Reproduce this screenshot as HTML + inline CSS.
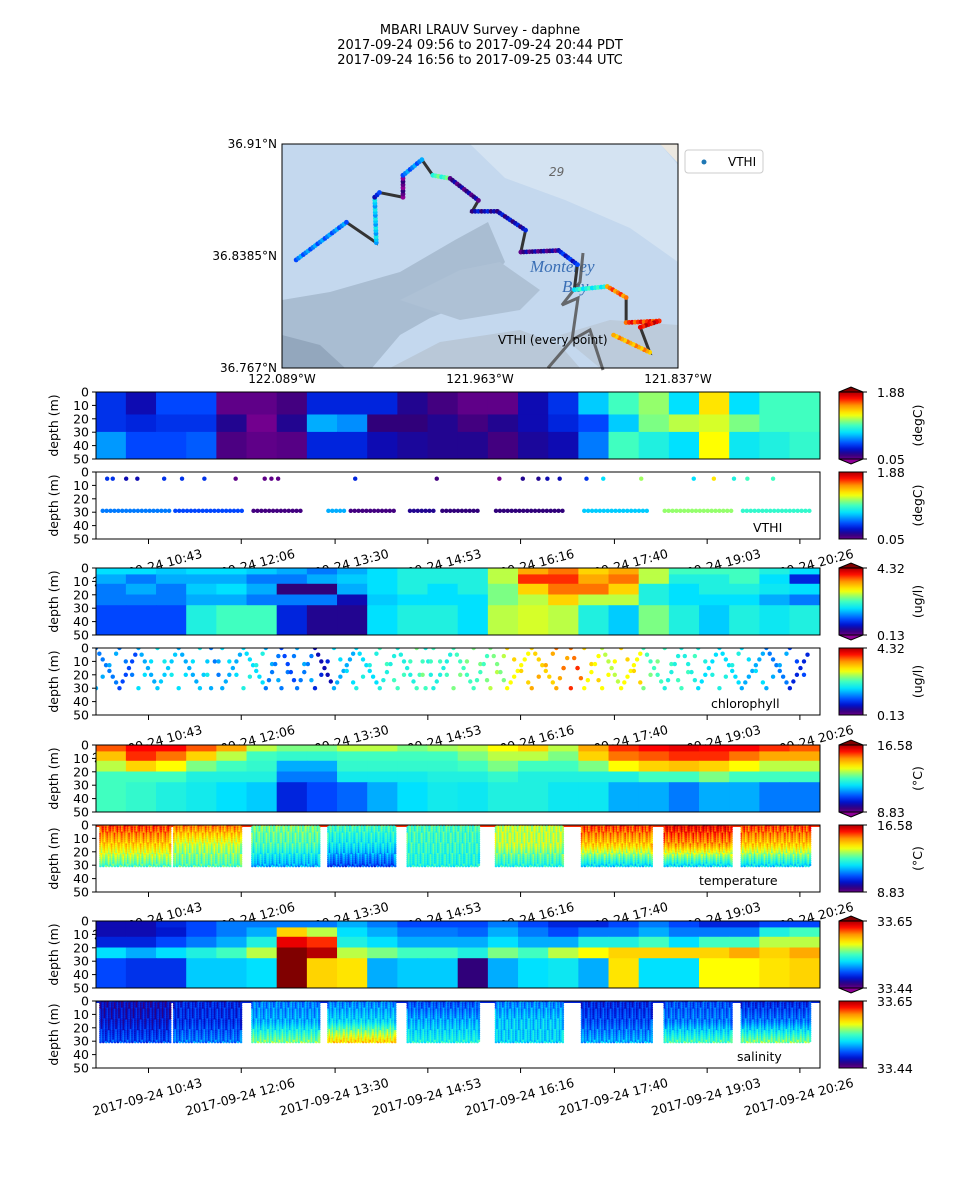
<!DOCTYPE html>
<html><head><meta charset="utf-8">
<style>
html,body{margin:0;padding:0;background:#fff;}
svg{display:block;font-family:"DejaVu Sans","Liberation Sans",sans-serif;}
</style></head>
<body>
<svg id="fig" width="960" height="1200" viewBox="0 0 960 1200" xmlns="http://www.w3.org/2000/svg">
<rect x="0" y="0" width="960" height="1200" fill="#fff"/>
<g font-size="13" text-anchor="middle" fill="#000" style="white-space:pre">
<text x="480" y="34">MBARI LRAUV Survey - daphne</text>
<text x="480" y="49">2017-09-24 09:56  to  2017-09-24 20:44 PDT</text>
<text x="480" y="64">2017-09-24 16:56  to  2017-09-25 03:44 UTC</text>
</g>
<g id="map"></g>
<g id="panels"></g>
</svg>
<script>
// ---------- data ----------
const tickLabels = ["2017-09-24 10:43","2017-09-24 12:06","2017-09-24 13:30","2017-09-24 14:53","2017-09-24 16:16","2017-09-24 17:40","2017-09-24 19:03","2017-09-24 20:26"];
const tickMinutes = [47,130,214,297,380,464,547,630];
const depthTicks = [0,10,20,30,40,50];
const spanMinutes = 648;

const vthiRange = ["1.88","0.05"];
const chlRange = ["4.32","0.13"];
const tempRange = ["16.58","8.83"];
const salRange = ["33.65","33.44"];

// gridded fields: levels (0..1 of colour range) per 27-min column, per depth band
const vthiBands = [0,17,30,50];
const vthiGrid = [
 [0.22,0.15,0.25,0.25,0.05,0.05,0.08,0.2,0.2,0.2,0.12,0.08,0.05,0.05,0.15,0.22,0.38,0.5,0.57,0.4,0.68,0.4,0.5,0.5],
 [0.22,0.2,0.22,0.22,0.12,0.03,0.12,0.35,0.32,0.1,0.1,0.12,0.08,0.12,0.15,0.2,0.25,0.38,0.55,0.6,0.62,0.55,0.5,0.5],
 [0.33,0.25,0.25,0.27,0.07,0.05,0.06,0.2,0.2,0.15,0.13,0.12,0.12,0.08,0.13,0.15,0.3,0.5,0.45,0.4,0.65,0.42,0.45,0.48]
];
const fieldBands = [0,5,12,20,28,50];
const chlGrid = [
 [0.4,0.4,0.38,0.4,0.4,0.38,0.35,0.3,0.35,0.4,0.45,0.45,0.45,0.6,0.75,0.8,0.7,0.75,0.6,0.5,0.5,0.5,0.45,0.4],
 [0.35,0.3,0.35,0.35,0.35,0.3,0.3,0.35,0.38,0.4,0.45,0.45,0.45,0.6,0.85,0.85,0.75,0.8,0.6,0.45,0.45,0.5,0.4,0.2],
 [0.3,0.35,0.3,0.38,0.4,0.35,0.1,0.1,0.35,0.4,0.45,0.4,0.45,0.55,0.7,0.8,0.8,0.7,0.45,0.4,0.45,0.45,0.42,0.4],
 [0.3,0.3,0.3,0.35,0.35,0.3,0.3,0.3,0.15,0.38,0.4,0.4,0.4,0.55,0.6,0.7,0.6,0.6,0.45,0.4,0.4,0.4,0.35,0.3],
 [0.25,0.25,0.25,0.45,0.5,0.5,0.2,0.12,0.12,0.4,0.45,0.45,0.4,0.6,0.62,0.6,0.45,0.38,0.55,0.45,0.38,0.45,0.42,0.45]
];
const tempGrid = [
 [0.82,0.88,0.88,0.82,0.75,0.6,0.55,0.55,0.6,0.6,0.55,0.58,0.6,0.65,0.7,0.6,0.75,0.85,0.88,0.9,0.88,0.88,0.85,0.82],
 [0.72,0.85,0.8,0.7,0.6,0.5,0.48,0.48,0.5,0.5,0.5,0.5,0.55,0.6,0.6,0.55,0.7,0.8,0.82,0.85,0.85,0.8,0.75,0.75],
 [0.6,0.7,0.65,0.55,0.5,0.48,0.35,0.35,0.48,0.48,0.48,0.48,0.5,0.55,0.5,0.5,0.55,0.65,0.7,0.72,0.7,0.65,0.6,0.6],
 [0.5,0.5,0.5,0.45,0.45,0.45,0.3,0.3,0.43,0.43,0.43,0.45,0.45,0.48,0.45,0.45,0.45,0.45,0.5,0.5,0.55,0.5,0.5,0.5],
 [0.5,0.48,0.45,0.43,0.4,0.38,0.2,0.25,0.28,0.35,0.4,0.43,0.42,0.45,0.45,0.42,0.42,0.35,0.35,0.3,0.35,0.35,0.3,0.3]
];
const salGrid = [
 [0.15,0.15,0.2,0.25,0.3,0.3,0.3,0.3,0.35,0.3,0.25,0.25,0.25,0.3,0.25,0.2,0.2,0.25,0.3,0.25,0.2,0.2,0.25,0.25],
 [0.15,0.15,0.18,0.25,0.3,0.35,0.7,0.6,0.4,0.35,0.3,0.3,0.28,0.35,0.3,0.25,0.3,0.3,0.35,0.3,0.3,0.3,0.45,0.5],
 [0.2,0.2,0.25,0.3,0.35,0.45,0.9,0.85,0.45,0.4,0.35,0.35,0.35,0.4,0.35,0.35,0.45,0.45,0.5,0.4,0.5,0.5,0.6,0.6],
 [0.4,0.35,0.4,0.45,0.5,0.6,1.0,0.95,0.6,0.55,0.5,0.5,0.45,0.55,0.5,0.6,0.65,0.7,0.7,0.7,0.7,0.75,0.7,0.75],
 [0.25,0.22,0.22,0.38,0.38,0.4,1.0,0.7,0.68,0.35,0.38,0.38,0.1,0.35,0.4,0.42,0.35,0.68,0.4,0.4,0.65,0.65,0.68,0.7]
];

// VTHI samples: shallow points [minute, level]; deep segments at 30 m [start, end, level]
const vthiShallow = [[10,0.22],[15,0.22],[27,0.15],[37,0.15],[61,0.22],[77,0.22],[97,0.22],[125,0.05],[151,0.05],[157,0.05],[163,0.05],[232,0.2],[305,0.08],[361,0.03],[382,0.12],[396,0.12],[404,0.15],[415,0.15],[439,0.22],[454,0.4],[488,0.58],[535,0.4],[553,0.68],[571,0.45],[583,0.5],[606,0.5]];
const vthiDeep = [[6,67,0.3],[71,131,0.25],[141,185,0.08],[208,225,0.35],[228,269,0.08],[281,302,0.12],[310,342,0.1],[358,418,0.1],[437,496,0.38],[509,570,0.57],[579,639,0.48]];

// chlorophyll yo-yo turning points [minute, depth] and level per leg
const chlTurnMin = [0,21,38,55,74,93,103,113,132,152,166,180,196,213,233,254,270,287,295,302,320,338,353,368,390,412,425,437,453,470,490,509,524,539,558,578,600,621,640];
const chlTurnDepth = [0,30,0,30,0,30,0,30,0,30,0,30,0,30,0,30,0,30,0,30,0,30,0,30,0,30,0,30,0,30,0,30,0,30,0,30,0,30,0];
const chlLegLevel = [0.3,0.25,0.35,0.38,0.35,0.38,0.3,0.35,0.4,0.3,0.25,0.3,0.15,0.35,0.4,0.45,0.45,0.5,0.45,0.45,0.5,0.5,0.55,0.65,0.7,0.75,0.8,0.65,0.6,0.65,0.5,0.45,0.45,0.4,0.4,0.35,0.3,0.2];

// dense profiling blocks [start, end] with level at top / 15 m / 30 m
const blockStart = [4,70,140,208,279,358,435,509,578];
const blockEnd = [67,131,200,269,343,419,498,570,640];
const tempTop = [0.85,0.8,0.55,0.5,0.5,0.6,0.85,0.9,0.85];
const tempMid = [0.7,0.6,0.5,0.42,0.48,0.6,0.7,0.75,0.7];
const tempBot = [0.5,0.5,0.35,0.25,0.45,0.45,0.4,0.4,0.4];
const salTop = [0.15,0.2,0.3,0.3,0.25,0.3,0.2,0.25,0.2];
const salMid = [0.18,0.22,0.35,0.4,0.35,0.38,0.25,0.3,0.3];
const salBot = [0.25,0.3,0.55,0.7,0.45,0.4,0.35,0.5,0.55];

// map track (lon, lat) and leg levels (-1 = no samples)
const trackLon = [-122.080,-122.048,-122.029,-122.030,-122.027,-122.012,-122.012,-122.000,-121.993,-121.982,-121.964,-121.968,-121.952,-121.934,-121.937,-121.913,-121.901,-121.903,-121.882,-121.870,-121.870,-121.849,-121.861,-121.855,-121.878];
const trackLat = [36.836,36.860,36.847,36.876,36.879,36.876,36.890,36.900,36.890,36.888,36.874,36.867,36.867,36.855,36.841,36.842,36.833,36.817,36.819,36.812,36.796,36.797,36.793,36.777,36.788];
const trackLevel = [0.3,-1,0.38,0.2,-1,0.05,0.3,-1,0.5,0.1,-1,0.15,0.15,-1,0.1,0.2,-1,0.45,0.8,-1,0.85,0.9,-1,0.75];

// ---------- helpers ----------
const NS = "http://www.w3.org/2000/svg";
function mk(tag, attrs, parent){const e=document.createElementNS(NS,tag);for(const k in attrs)e.setAttribute(k,attrs[k]);parent.appendChild(e);return e;}
const stops=[[0,[142,0,150]],[0.1,[48,0,122]],[0.17,[0,16,200]],[0.25,[0,70,255]],[0.4,[0,225,255]],[0.5,[64,255,192]],[0.58,[160,255,96]],[0.65,[255,255,0]],[0.78,[255,144,0]],[0.88,[255,0,0]],[1,[128,0,0]]];
function cmap(v){v=Math.max(0,Math.min(1,v));for(let i=1;i<stops.length;i++){if(v<=stops[i][0]){const a=stops[i-1],b=stops[i];const t=(v-a[0])/(b[0]-a[0]);const c=a[1].map((x,j)=>Math.round(x+(b[1][j]-x)*t));return `rgb(${c[0]},${c[1]},${c[2]})`;}}return "rgb(128,0,0)";}

const AX0=96, AX1=820, PH=67, CB0=839, CBW=24;
function X(m){return AX0+m/spanMinutes*(AX1-AX0);}

// ---------- map ----------
const map=document.getElementById('map');
const MX0=282,MX1=678,MY0=144,MY1=368;
function MXp(lon){return MX0+(lon+122.089)/0.252*(MX1-MX0);}
function MYp(lat){return MY0+(36.91-lat)/0.143*(MY1-MY0);}
mk('rect',{x:MX0,y:MY0,width:MX1-MX0,height:MY1-MY0,fill:'#c4d8ee'},map);
let p=mk('polygon',{points:'470,144 660,144 678,165 678,262 630,228 565,200 505,178',fill:'#d4e3f2'},map);

p=mk('polygon',{points:'282,300 330,292 400,272 455,240 488,222 505,262 475,300 430,318 400,335 372,368 282,368',fill:'#a9bdd2'},map);

mk('polygon',{points:'282,335 320,345 345,368 282,368',fill:'#93a7bd'},map);
mk('polygon',{points:'400,300 460,270 500,262 540,290 520,310 460,320',fill:'#aec1d5'},map);
mk('polygon',{points:'390,368 440,342 520,330 560,345 580,368',fill:'#b9c8d8'},map);
mk('polygon',{points:'560,335 610,320 678,325 678,368 600,368',fill:'#bccbdb'},map);
mk('polygon',{points:'660,144 678,144 678,163',fill:'#ece8e0'},map);
const tx=mk('text',{x:549,y:176,'font-size':12,'font-style':'italic',fill:'#666'},map);tx.textContent='29';
const t1=mk('text',{x:530,y:272,'font-size':17,'font-style':'italic','font-family':'Liberation Serif, serif',fill:'#3a6fb5'},map);t1.textContent='Monterey';

const t2=mk('text',{x:562,y:292,'font-size':17,'font-style':'italic','font-family':'Liberation Serif, serif',fill:'#3a6fb5'},map);t2.textContent='Bay';
mk('polyline',{points:'583,253 580,282 562,305 578,298 572,340 548,368',fill:'none',stroke:'#555','stroke-width':3,'stroke-opacity':0.85},map);
mk('polyline',{points:'572,340 590,330 603,370',fill:'none',stroke:'#555','stroke-width':3,'stroke-opacity':0.85},map);
const trackPts=trackLon.map((lo,i)=>MXp(lo)+','+MYp(trackLat[i])).join(' ');
const tl=mk('polyline',{points:trackPts,fill:'none',stroke:'#333','stroke-width':3},map);

for(let i=0;i<trackLevel.length;i++){
  if(trackLevel[i]<0)continue;
  const x0=MXp(trackLon[i]),y0=MYp(trackLat[i]),x1=MXp(trackLon[i+1]),y1=MYp(trackLat[i+1]);
  const n=Math.max(2,Math.round(Math.hypot(x1-x0,y1-y0)/3));
  for(let k=0;k<=n;k++){const c=mk('circle',{cx:x0+(x1-x0)*k/n,cy:y0+(y1-y0)*k/n,r:2.4,fill:cmap(trackLevel[i]+((k%3)-1)*0.05)},map);
    }
}
const vl=mk('text',{x:498,y:344,'font-size':12,fill:'#000'},map);vl.textContent='VTHI (every point)';
mk('rect',{x:MX0,y:MY0,width:MX1-MX0,height:MY1-MY0,fill:'none',stroke:'#000','stroke-width':1},map);
[['36.91°N',148],['36.8385°N',260],['36.767°N',372]].forEach(a=>{const t=mk('text',{x:277,y:a[1],'font-size':12,'text-anchor':'end'},map);t.textContent=a[0];
  });
[['122.089°W',282],['121.963°W',480],['121.837°W',678]].forEach(a=>{const t=mk('text',{x:a[1],y:383,'font-size':12,'text-anchor':'middle'},map);t.textContent=a[0];
  });
const lg=mk('g',{},map);
mk('rect',{x:685,y:150,width:78,height:23,rx:3,fill:'#fff',stroke:'#ccc'},lg);
mk('circle',{cx:704,cy:162,r:2.5,fill:'#1f77b4'},lg);
const lt=mk('text',{x:728,y:166,'font-size':12},lg);lt.textContent='VTHI';

// ---------- panels ----------
const panelsG=document.getElementById('panels');
const panelDefs=[
 {top:392,kind:'grid',grid:vthiGrid,bands:vthiBands,range:vthiRange,unit:'(degC)',ext:true,name:'vthi-contour'},
 {top:472,kind:'vthi',range:vthiRange,unit:'(degC)',ext:false,label:'VTHI',lx:753,name:'vthi-scatter'},
 {top:568,kind:'grid',grid:chlGrid,bands:fieldBands,range:chlRange,unit:'(ug/l)',ext:true,name:'chlorophyll-contour'},
 {top:648,kind:'chl',range:chlRange,unit:'(ug/l)',ext:false,label:'chlorophyll',lx:711,name:'chlorophyll-scatter'},
 {top:745,kind:'grid',grid:tempGrid,bands:fieldBands,range:tempRange,unit:'(°C)',ext:true,name:'temperature-contour'},
 {top:825,kind:'block',tp:tempTop,md:tempMid,bt:tempBot,line:0.85,range:tempRange,unit:'(°C)',ext:false,label:'temperature',lx:699,name:'temperature-scatter'},
 {top:921,kind:'grid',grid:salGrid,bands:fieldBands,range:salRange,unit:'',ext:true,name:'salinity-contour'},
 {top:1001,kind:'block',tp:salTop,md:salMid,bt:salBot,line:0.2,range:salRange,unit:'',ext:false,label:'salinity',lx:737,name:'salinity-scatter'}
];
panelDefs.forEach((P,pi)=>{
 const g=mk('g',{},panelsG);
 
 
 const top=P.top, Y=d=>top+d/50*PH;
 mk('rect',{x:AX0,y:top,width:AX1-AX0,height:PH,fill:'#fff'},g);
 const clipId='clip'+pi;
 const cp=mk('clipPath',{id:clipId},g);mk('rect',{x:AX0,y:top,width:AX1-AX0,height:PH},cp);
 const body=mk('g',{'clip-path':`url(#${clipId})`},g);
 if(P.kind==='grid'){
   const cols=P.grid[0].length, cm=spanMinutes/cols;
   P.grid.forEach((row,r)=>row.forEach((v,c)=>{
     const e=mk('rect',{x:X(c*cm)-0.3,y:Y(P.bands[r])-0.3,width:X((c+1)*cm)-X(c*cm)+0.6,height:Y(P.bands[r+1])-Y(P.bands[r])+0.6,fill:cmap(v)},body);
     
     
   }));
 } else if(P.kind==='vthi'){
   vthiShallow.forEach(s=>{const c=mk('circle',{cx:X(s[0]),cy:Y(5),r:2.2,fill:cmap(s[1])},body);
     });
   vthiDeep.forEach(s=>{for(let m=s[0];m<=s[1];m+=3.5){const c=mk('circle',{cx:X(m),cy:Y(29),r:2.2,fill:cmap(s[2])},body);
     }});
 } else if(P.kind==='chl'){
   for(let i=0;i<chlTurnMin.length-1;i++){
     const m0=chlTurnMin[i],m1=chlTurnMin[i+1],d0=chlTurnDepth[i],d1=chlTurnDepth[i+1];
     const n=Math.max(3,Math.round((m1-m0)/3));
     for(let k=0;k<n;k++){const f=k/n,m=m0+(m1-m0)*f;
       const c=mk('circle',{cx:X(m),cy:Y(d0+(d1-d0)*f),r:2.2,fill:cmap(chlLegLevel[i])},body);
       
       if(k%2===0){const c2=mk('circle',{cx:X(m),cy:Y(d1+(d0-d1)*f),r:2.2,fill:cmap(chlLegLevel[i]+0.05)},body);
       }
     }
   }
 } else if(P.kind==='block'){
   mk('rect',{x:AX0,y:top,width:AX1-AX0,height:2,fill:cmap(P.line)},body);
   blockStart.forEach((b0,bi)=>{
     let col=0;
     for(let m=b0;m<=blockEnd[bi];m+=1.3){
       col++;
       for(let d=1;d<=30;d+=1.6){
         const v=d<15?P.tp[bi]+(P.md[bi]-P.tp[bi])*d/15:P.md[bi]+(P.bt[bi]-P.md[bi])*(d-15)/15;
         const jit=((col*7+Math.round(d*3))%5-2)*0.03;
         const c=mk('circle',{cx:X(m),cy:Y(d+(col%2)*0.8),r:1.3,fill:cmap(v+jit)},body);
         
         
       }
     }
   });
 }
 mk('rect',{x:AX0,y:top,width:AX1-AX0,height:PH,fill:'none',stroke:'#000','stroke-width':1},g);
 // y ticks
 depthTicks.forEach(d=>{mk('line',{x1:AX0-4,x2:AX0,y1:Y(d),y2:Y(d),stroke:'#000'},g);
   const t=mk('text',{x:AX0-7,y:Y(d)+4.5,'font-size':12.5,'text-anchor':'end'},g);t.textContent=d;
   });
 const yl=mk('text',{x:0,y:0,'font-size':12.5,'text-anchor':'middle',transform:`translate(58,${top+PH/2}) rotate(-90)`},g);yl.textContent='depth (m)';
 
 if(P.label){const t=mk('text',{x:P.lx,y:top+PH-7,'font-size':12.5},g);t.textContent=P.label;
   }
 // colorbar
 const cb=mk('g',{},g);
 const gid='grad'+pi;
 const lgd=mk('linearGradient',{id:gid,x1:0,y1:1,x2:0,y2:0},cb);
 for(let s=0;s<=20;s++){mk('stop',{offset:s/20,'stop-color':cmap(s/20*0.92+0.04)},lgd);}
 mk('rect',{x:CB0,y:top,width:CBW,height:PH,fill:`url(#${gid})`,stroke:'#000','stroke-width':1},cb);
 if(P.ext){
   mk('polygon',{points:`${CB0},${top} ${CB0+CBW/2},${top-5} ${CB0+CBW},${top}`,fill:cmap(1),stroke:'#000'},cb);
   mk('polygon',{points:`${CB0},${top+PH} ${CB0+CBW/2},${top+PH+5} ${CB0+CBW},${top+PH}`,fill:cmap(0),stroke:'#000'},cb);
 }
 mk('line',{x1:CB0+CBW,x2:CB0+CBW+4,y1:top,y2:top,stroke:'#000'},cb);
 mk('line',{x1:CB0+CBW,x2:CB0+CBW+4,y1:top+PH,y2:top+PH,stroke:'#000'},cb);
 let a=mk('text',{x:877,y:top+5,'font-size':12.5},cb);a.textContent=P.range[0];
 a=mk('text',{x:877,y:top+PH+5,'font-size':12.5},cb);a.textContent=P.range[1];
 if(P.unit){const u=mk('text',{x:0,y:0,'font-size':12.5,'text-anchor':'middle',transform:`translate(922,${top+PH/2}) rotate(-90)`},cb);u.textContent=P.unit;
   }
 // x ticks on scatter panels
 if(P.kind!=='grid'){
   tickMinutes.forEach((m,i)=>{mk('line',{x1:X(m),x2:X(m),y1:top+PH,y2:top+PH+5,stroke:'#000'},g);
     const t=mk('text',{x:0,y:0,'font-size':12.5,'text-anchor':'middle',transform:`translate(${X(m)},${top+PH+33}) rotate(-15)`},g);
     t.textContent=tickLabels[i];
     
     });
 }
});
</script>
</body></html>
